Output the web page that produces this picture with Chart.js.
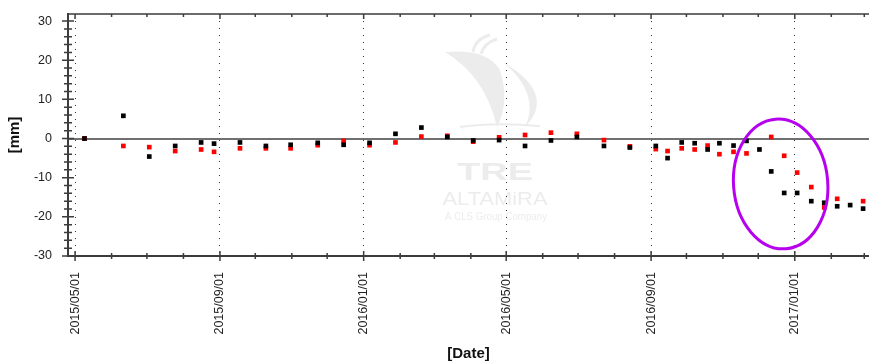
<!DOCTYPE html>
<html>
<head>
<meta charset="utf-8">
<script src="https://cdn.jsdelivr.net/npm/chart.js@4.4.0/dist/chart.umd.min.js"></script>
<style>
  html, body { margin: 0; padding: 0; background: #fff; overflow: hidden; }
  #wrap { width: 869px; height: 363px; position: relative; }
</style>
</head>
<body>
<div id="wrap"><canvas id="myChart"></canvas></div>
<script>
// acquisition dates and displacement [mm]
const dates = ['2015-05-09','2015-06-11','2015-07-03','2015-07-25','2015-08-16','2015-08-27',
  '2015-09-18','2015-10-10','2015-10-31','2015-11-23','2015-12-15','2016-01-06','2016-01-28',
  '2016-02-19','2016-03-12','2016-04-03','2016-04-25','2016-05-17','2016-06-08','2016-06-30',
  '2016-07-23','2016-08-14','2016-09-05','2016-09-15','2016-09-27','2016-10-08','2016-10-19',
  '2016-10-29','2016-11-10','2016-11-21','2016-12-02','2016-12-12','2016-12-23','2017-01-03',
  '2017-01-15','2017-01-26','2017-02-06','2017-02-17','2017-02-28'];
const blackMM = [0.0, 5.8, -4.6, -1.9, -1.0, -1.3, -1.0, -1.9, -1.6, -1.1, -1.6, -1.1, 1.2,
  2.8, 0.4, -0.5, -0.4, -1.9, -0.5, 0.4, -1.9, -2.3, -1.9, -5.0, -1.0, -1.2, -2.8,
  -1.2, -1.8, -0.6, -2.8, -8.4, -13.9, -13.9, -16.0, -16.4, -17.3, -17.0, -17.9];
const redMM = [0.0, -1.9, -2.2, -3.2, -2.8, -3.4, -2.5, -2.5, -2.5, -1.7, -0.6, -1.7, -1.0,
  0.5, 0.7, -0.8, 0.3, 0.9, 1.5, 1.2, -0.4, -2.0, -2.7, -3.2, -2.5, -2.8, -1.8,
  -4.0, -3.4, -3.8, null, 0.4, -4.4, -8.7, -12.4, -17.6, -15.4, null, -16.0];

const dateLabels = ['2015/05/01','2015/09/01','2016/01/01','2016/05/01','2016/09/01','2017/01/01'];
const xFrom = '2015-04-25', xTo = '2017-03-05';
const yFrom = -30, yTo = 31.8;

// circled area: centre date, centre mm, half width in days, half height in mm
const circle = { date: '2016-12-20', mm: -11.6, days: 40, dmm: 16.6 };

function day(s) {
  return (Date.parse(s.replace(/\//g, '-') + 'T00:00:00Z') - Date.UTC(2015, 0, 1)) / 864e5;
}
const majorDays = dateLabels.map(day);
function isMajor(v) { return majorDays.indexOf(v) >= 0; }

// monthly minor ticks (drawn by the plugin)
let monthTicks = [];
for (let y = 2015, m = 4; y < 2017 || m <= 2; m++) {
  if (m > 11) { m = 0; y++; }
  monthTicks.push((Date.UTC(y, m, 1) - Date.UTC(2015, 0, 1)) / 864e5);
  if (y === 2017 && m === 2) break;
}

function points(vals) {
  let out = [];
  for (let i = 0; i < dates.length; i++) {
    if (vals[i] !== null) out.push({ x: day(dates[i]), y: vals[i] });
  }
  return out;
}

function fitText(ctx, text, cx, baseline, font, width) {
  ctx.font = font;
  const w = ctx.measureText(text).width;
  ctx.save();
  ctx.translate(cx, baseline);
  ctx.scale(width / w, 1);
  ctx.textAlign = 'center';
  ctx.fillText(text, 0, 0);
  ctx.restore();
}

const decorations = {
  id: 'decorations',
  beforeDraw(chart) {
    // TRE ALTAMIRA watermark
    const ctx = chart.ctx;
    const a = chart.chartArea;
    const cx = a.left + 427, t = a.top;
    ctx.save();
    ctx.fillStyle = '#ececec';
    ctx.strokeStyle = '#ececec';
    ctx.beginPath();
    ctx.moveTo(cx - 50, t + 38);
    ctx.quadraticCurveTo(cx - 8, t + 34, cx + 5, t + 56);
    ctx.quadraticCurveTo(cx + 15, t + 88, cx + 2, t + 113);
    ctx.quadraticCurveTo(cx - 10, t + 62, cx - 50, t + 38);
    ctx.fill();
    ctx.beginPath();
    ctx.moveTo(cx + 8, t + 48);
    ctx.quadraticCurveTo(cx + 62, t + 80, cx + 30, t + 113);
    ctx.quadraticCurveTo(cx + 46, t + 80, cx + 8, t + 48);
    ctx.fill();
    ctx.lineWidth = 3;
    ctx.beginPath();
    ctx.moveTo(cx - 22, t + 38);
    ctx.quadraticCurveTo(cx - 20, t + 25, cx - 5, t + 21);
    ctx.moveTo(cx - 14, t + 40);
    ctx.quadraticCurveTo(cx - 11, t + 29, cx + 2, t + 25);
    ctx.stroke();
    ctx.lineWidth = 2;
    ctx.beginPath();
    ctx.moveTo(cx - 35, t + 113);
    ctx.quadraticCurveTo(cx, t + 108, cx + 45, t + 112);
    ctx.stroke();
    fitText(ctx, 'TRE', cx, t + 166, 'bold 24px "Liberation Sans"', 76);
    fitText(ctx, 'ALTAMiRA', cx, t + 191, '18px "Liberation Sans"', 105);
    fitText(ctx, 'A CLS Group Company', cx + 1, t + 206, '10px "Liberation Sans"', 102);
    ctx.restore();
  },
  afterDraw(chart) {
    const ctx = chart.ctx;
    const a = chart.chartArea;
    const x = chart.scales.x, y = chart.scales.y;
    ctx.save();
    ctx.strokeStyle = '#3c3c3c';
    ctx.lineWidth = 1.5;
    ctx.beginPath();
    ctx.moveTo(a.left, a.top);
    ctx.lineTo(a.right, a.top);
    monthTicks.forEach(function(v) {
      const px = x.getPixelForValue(v);
      const len = isMajor(v) ? 5 : 3;
      ctx.moveTo(px, a.bottom - len);
      ctx.lineTo(px, a.bottom + len);
      ctx.moveTo(px, a.top);
      ctx.lineTo(px, a.top + len);
    });
    y.ticks.forEach(function(tk) {
      const py = y.getPixelForValue(tk.value);
      const len = tk.value % 10 === 0 ? 6 : 4;
      ctx.moveTo(a.left - len, py);
      ctx.lineTo(a.left + len, py);
    });
    ctx.stroke();

    // circled area
    const c = day(circle.date);
    const ex = x.getPixelForValue(c), ey = y.getPixelForValue(circle.mm);
    const rx = x.getPixelForValue(c + circle.days) - ex;
    const ry = ey - y.getPixelForValue(circle.mm + circle.dmm);
    ctx.strokeStyle = '#b700ee';
    ctx.lineWidth = 3;
    ctx.beginPath();
    ctx.ellipse(ex, ey, rx, ry, -0.08, 0, Math.PI * 2);
    ctx.stroke();
    ctx.restore();
  }
};

const tickFont = { family: '"Liberation Sans", Arial, sans-serif', size: 12.5 };
const titleFont = { family: '"Liberation Sans", Arial, sans-serif', size: 15, weight: 'bold' };

var ctx = document.getElementById('myChart').getContext('2d');
var myChart = new Chart(ctx, {
  type: 'scatter',
  data: {
    datasets: [{
      label: 'black',
      data: points(blackMM),
      backgroundColor: '#000000',
      pointStyle: 'rect',
      pointRadius: 3.3,
      pointBorderWidth: 0
    },
    {
      label: 'red',
      data: points(redMM),
      backgroundColor: '#ff0000',
      pointStyle: 'rect',
      pointRadius: 3.3,
      pointBorderWidth: 0
    }]
  },
  options: {
    responsive: true,
    maintainAspectRatio: false,
    animation: false,
    layout: { padding: { top: 14, left: 0, right: 0, bottom: 0 } },
    plugins: { legend: { display: false }, tooltip: { enabled: false } },
    elements: { point: { hoverRadius: 3.3 } },
    scales: {
      x: {
        type: 'linear',
        min: day(xFrom),
        max: day(xTo),
        afterBuildTicks: function(scale) {
          scale.ticks = majorDays.map(function(v) { return { value: v }; });
        },
        afterFit: function(scale) {
          scale.height = 107;
        },
        ticks: {
          autoSkip: false,
          minRotation: 90,
          maxRotation: 90,
          padding: 16,
          color: '#222',
          font: tickFont,
          callback: function(v) {
            const i = majorDays.indexOf(v);
            return i >= 0 ? dateLabels[i] : '';
          }
        },
        grid: {
          drawTicks: false,
          color: '#333',
          lineWidth: 1
        },
        border: { color: '#3c3c3c', width: 2, dash: [1, 6] },
        title: {
          display: true,
          text: '[Date]',
          color: '#111',
          font: titleFont,
          padding: { top: 0, bottom: 0 }
        }
      },
      y: {
        min: yFrom,
        max: yTo,
        afterFit: function(scale) {
          scale.width = 68;
          scale.paddingTop = 0;
          scale.paddingBottom = 0;
        },
        ticks: {
          stepSize: 2,
          includeBounds: false,
          autoSkip: false,
          padding: 16,
          color: '#222',
          font: tickFont,
          callback: function(v) { return v % 10 === 0 ? String(v) : ''; }
        },
        grid: {
          drawTicks: false,
          color: function(c) { return c.tick && c.tick.value === 0 ? '#707070' : 'rgba(0,0,0,0)'; },
          lineWidth: function(c) { return c.tick && c.tick.value === 0 ? 2 : 0; }
        },
        border: { color: '#3c3c3c', width: 2 },
        title: {
          display: true,
          text: '[mm]',
          color: '#111',
          font: titleFont,
          padding: { top: 6, bottom: 0 }
        }
      }
    }
  },
  plugins: [decorations]
});

// the plot in the original runs to the right edge of the picture:
// widen the canvas by whatever the layout keeps free on the right
const gap = myChart.width - myChart.chartArea.right;
if (gap > 0) {
  document.getElementById('wrap').style.width = (869 + gap) + 'px';
  myChart.resize();
}
</script>
</body>
</html>
